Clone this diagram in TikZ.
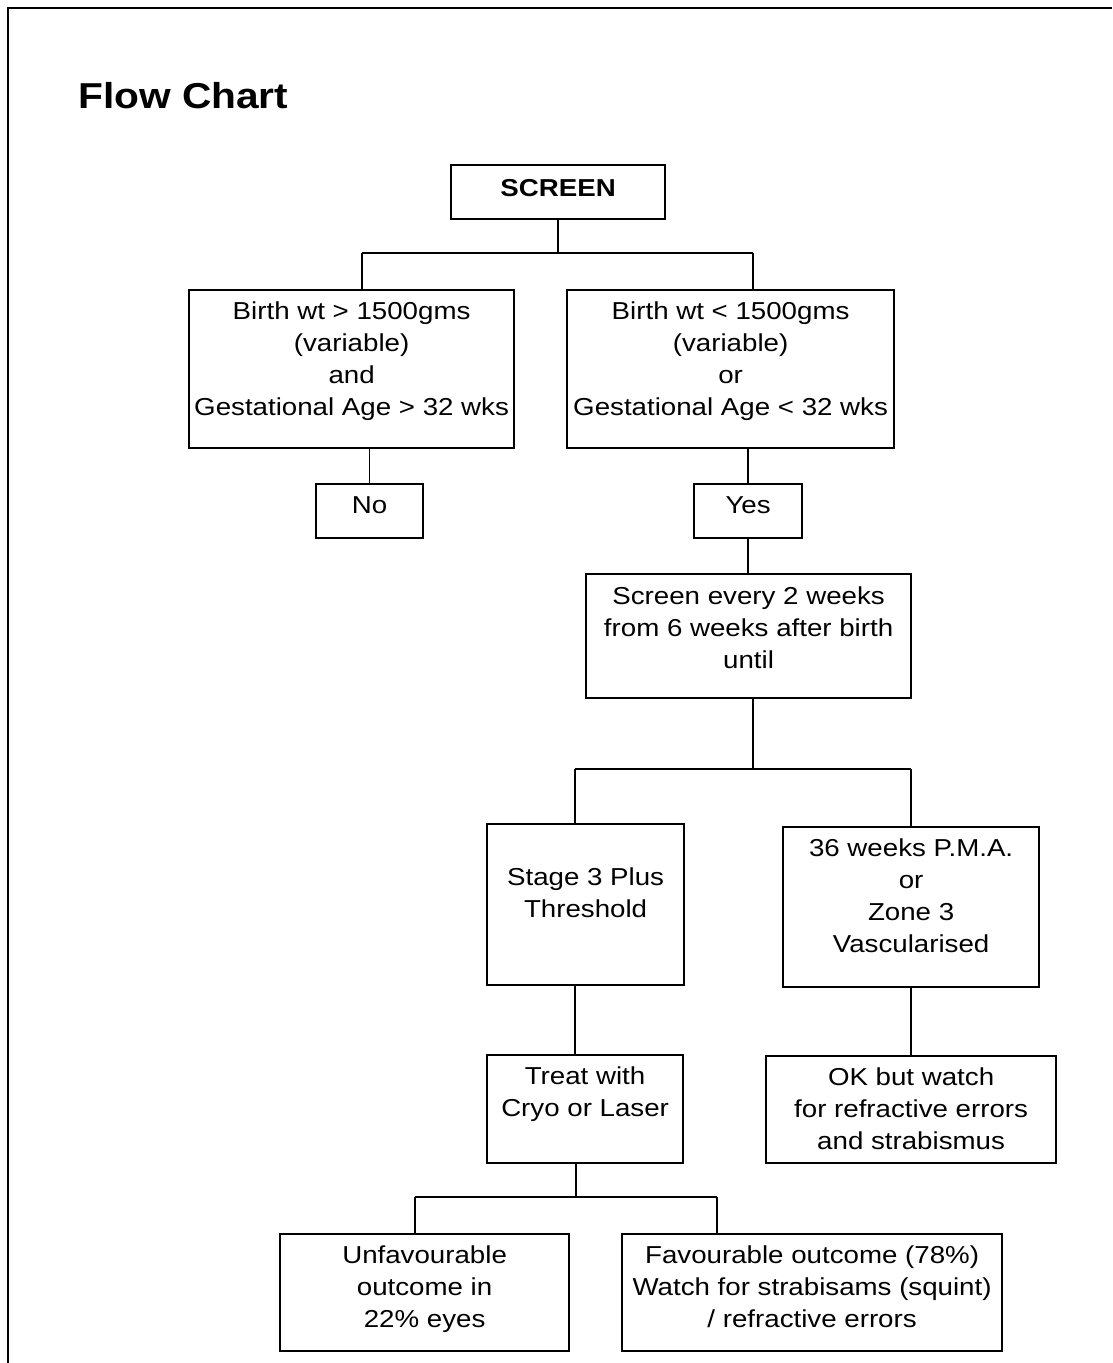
\documentclass[tikz,border=0pt]{standalone}
\usepackage{fontspec}
\setmainfont{Liberation Sans}[FakeStretch=1.13]
\newcommand{\boxtext}[4][29pt]{\parbox[c][#3][t]{#2}{\centering\rule{0pt}{#1}#4}}
\begin{document}
\begin{tikzpicture}[x=1pt, y=-1pt,
    flowbox/.style={draw, line width=2.2pt, inner sep=0pt, anchor=north west,
      font=\fontsize{24.5pt}{32pt}\selectfont},
    link/.style={line width=1.7pt}]
  \useasboundingbox (0,0) rectangle (1112,1363);
  \draw[line width=2.8pt] (1112,8) -- (8,8) -- (8,1363);
  \node[anchor=base west, inner sep=0pt, font=\fontsize{36pt}{40pt}\selectfont\bfseries] (title) at (78,108) {Flow Chart};

  \node[flowbox] (screen) at (450,164) {\boxtext[31pt]{214pt}{54pt}{\textbf{SCREEN}}};
  \node[flowbox] (lbirth) at (188,289) {\boxtext{325pt}{158pt}{Birth wt > 1500gms\\(variable)\\and\\Gestational Age > 32 wks}};
  \node[flowbox] (rbirth) at (566,289) {\boxtext{327pt}{158pt}{Birth wt < 1500gms\\(variable)\\or\\Gestational Age < 32 wks}};
  \node[flowbox] (no) at (315,483) {\boxtext{107pt}{54pt}{No}};
  \node[flowbox] (yes) at (693,483) {\boxtext{108pt}{54pt}{Yes}};
  \node[flowbox] (every) at (585,573) {\boxtext[30pt]{325pt}{124pt}{Screen every 2 weeks\\from 6 weeks after birth\\until}};
  \node[flowbox] (stage) at (486,823) {\boxtext[61pt]{197pt}{161pt}{Stage 3 Plus\\Threshold}};
  \node[flowbox] (pma) at (782,826) {\boxtext{256pt}{160pt}{36 weeks P.M.A.\\or\\Zone 3\\Vascularised}};
  \node[flowbox] (treat) at (486,1054) {\boxtext{196pt}{108pt}{Treat with\\Cryo or Laser}};
  \node[flowbox] (okwatch) at (765,1055) {\boxtext{290pt}{107pt}{OK but watch\\for refractive errors\\and strabismus}};
  \node[flowbox] (unfav) at (279,1233) {\boxtext{289pt}{117pt}{Unfavourable\\outcome in\\22\% eyes}};
  \node[flowbox] (fav) at (621,1233) {\boxtext{380pt}{117pt}{Favourable outcome (78\%)\\Watch for strabisams (squint)\\/ refractive errors}};

  % junctions of the branch bars
  \coordinate (bar1l) at (362,253);
  \coordinate (bar1r) at (753,253);
  \coordinate (bar2l) at (575,769);
  \coordinate (bar2m) at (753,769);
  \coordinate (bar2r) at (911,769);
  \coordinate (bar3l) at (415,1197);
  \coordinate (bar3m) at (576,1197);
  \coordinate (bar3r) at (717,1197);

  \draw[link] (screen.south) -- (screen.south |- bar1l);
  \draw[link] (bar1l) -- (bar1r);
  \draw[link] (bar1l) -- (bar1l |- lbirth.north);
  \draw[link] (bar1r) -- (bar1r |- rbirth.north);
  \draw[link] (no.north |- lbirth.south) -- (no.north);
  \draw[link] (yes.north |- rbirth.south) -- (yes.north);
  \draw[link] (yes.south) -- (yes.south |- every.north);
  \draw[link] (bar2m |- every.south) -- (bar2m);
  \draw[link] (bar2l) -- (bar2r);
  \draw[link] (bar2l) -- (bar2l |- stage.north);
  \draw[link] (bar2r) -- (bar2r |- pma.north);
  \draw[link] (bar2l |- stage.south) -- (bar2l |- treat.north);
  \draw[link] (bar2r |- pma.south) -- (bar2r |- okwatch.north);
  \draw[link] (bar3m |- treat.south) -- (bar3m);
  \draw[link] (bar3l) -- (bar3r);
  \draw[link] (bar3l) -- (bar3l |- unfav.north);
  \draw[link] (bar3r) -- (bar3r |- fav.north);
\end{tikzpicture}
\end{document}
